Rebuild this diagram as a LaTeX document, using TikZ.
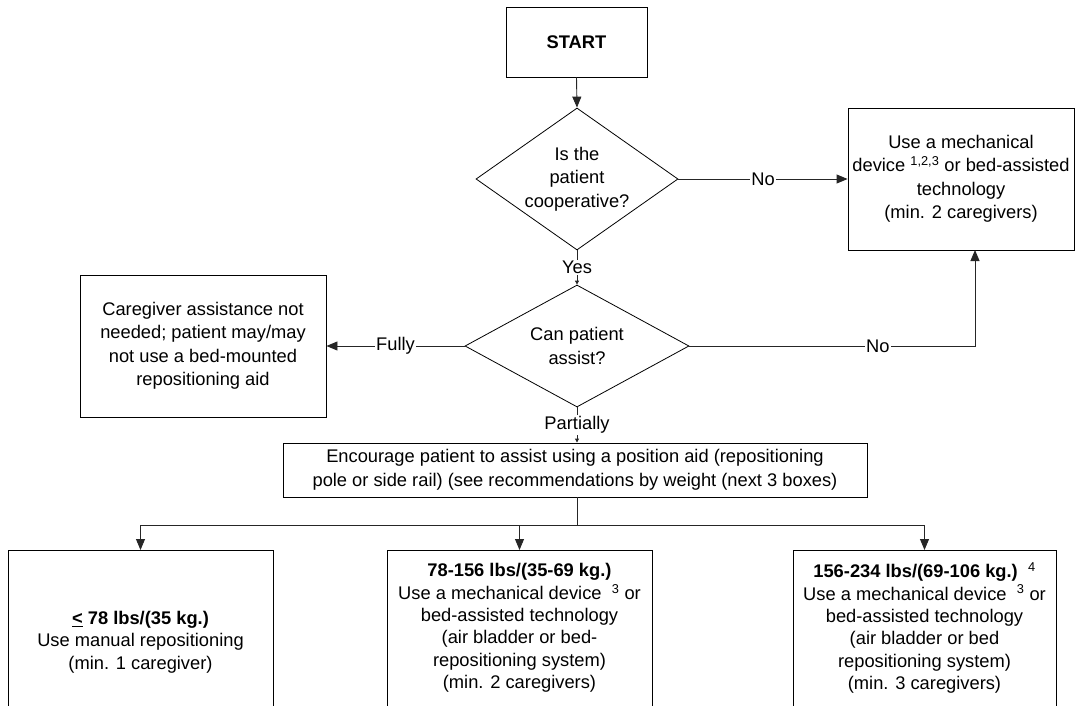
\documentclass[tikz,border=0pt]{standalone}
\usepackage{fontspec}
\setmainfont{Liberation Sans}
\usetikzlibrary{shapes.geometric,arrows.meta}
\begin{document}
\begin{tikzpicture}[x=1pt,y=-1pt,
  font=\fontsize{18.3}{23.5}\selectfont,
  box/.style={draw=black,line width=0.9pt,align=center,inner sep=0pt},
  dia/.style={draw=black,line width=0.8pt,diamond,align=center,inner sep=-10pt},
  conn/.style={draw=black!85,line width=0.9pt},
  arr/.style={conn,-{Triangle[length=11pt,width=9pt]}},
  sarr/.style={conn,-{Triangle[length=4pt,width=4pt]}},
  lbl/.style={fill=white,inner sep=1.5pt},
  lowtext/.style={align=center,font=\fontsize{18.3}{22.3}\selectfont}]
\useasboundingbox (0,0) rectangle (1089,706);
\clip (0,0) rectangle (1089,706);
\node[box,minimum width=141pt,minimum height=70pt,font=\fontsize{18.3}{23.5}\selectfont\bfseries] (start) at (576.5,42) {START};
\node[dia,minimum width=202pt,minimum height=142pt,aspect=1.42] (d1) at (577,179) {Is the\\patient\\cooperative?};
\node[box,minimum width=226pt,minimum height=142pt] (r1) at (961,179) {Use a mechanical\\device \textsuperscript{1,2,3} or bed-assisted\\technology\\(min. 2 caregivers)};
\node[dia,minimum width=224pt,minimum height=122pt,aspect=1.84] (d2) at (577,346) {Can patient\\assist?};
\node[box,minimum width=246pt,minimum height=142pt] (care) at (203,346) {Caregiver assistance not\\needed; patient may/may\\not use a bed-mounted\\repositioning aid};
\node[box,minimum width=584pt,minimum height=54pt] (enc) at (575,470) {Encourage patient to assist using a position aid (repositioning\\pole or side rail) (see recommendations by weight (next 3 boxes)};
\node[box,minimum width=265pt,minimum height=200pt,anchor=north] (b1) at (140.5,550) {};
\node[box,minimum width=265pt,minimum height=200pt,anchor=north] (b2) at (519.5,550) {};
\node[box,minimum width=263pt,minimum height=200pt,anchor=north] (b3) at (924.5,550) {};
\node[lowtext] (t1) at (140.5,642) {\textbf{\underline{<} 78 lbs/(35 kg.)}\\Use manual repositioning\\(min. 1 caregiver)};
\node[lowtext] (t2) at (519.5,628) {\textbf{78-156 lbs/(35-69 kg.)}\\Use a mechanical device \ \textsuperscript{3} or\\bed-assisted technology\\(air bladder or bed-\\repositioning system)\\(min. 2 caregivers)};
\node[lowtext] (t3) at (924.5,628) {\textbf{156-234 lbs/(69-106 kg.)}\ \ \textsuperscript{4}\\Use a mechanical device \ \textsuperscript{3} or\\bed-assisted technology\\(air bladder or bed\\repositioning system)\\(min. 3 caregivers)};
\draw[arr] (start.south) -- (d1.north);
\draw[arr] (d1.east) -- node[lbl]{No} (r1.west);
\draw[sarr] (d1.south) -- node[lbl]{Yes} (d2.north);
\draw[arr] (d2.west) -- node[lbl]{Fully} (care.east);
\coordinate (upx) at (975,250);
\draw[arr] (d2.east) -- node[lbl,pos=0.66]{No} (d2.east -| upx) -- (upx);
\draw[sarr] (d2.south) -- node[lbl]{Partially} (d2.south |- enc.north);
\coordinate (split) at (577,525);
\draw[conn] (enc.south -| split) -- (split);
\draw[arr] (split) -| (b1.north);
\draw[arr] (split) -| (b2.north);
\draw[arr] (split) -| (b3.north);
\end{tikzpicture}
\end{document}
